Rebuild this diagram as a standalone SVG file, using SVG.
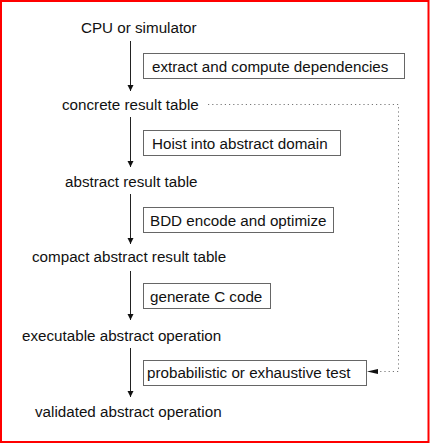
<svg xmlns="http://www.w3.org/2000/svg" width="430" height="444" viewBox="0 0 430 444">
<style>
.t{font-family:"Liberation Sans",Arial,sans-serif;font-size:15.2px;fill:#111}
.b{fill:#fff;stroke:#666;stroke-width:1}
.a{stroke:#222;stroke-width:1;fill:none}
.d{stroke:#777;stroke-width:1;fill:none;stroke-dasharray:1.2 3}
</style>
<defs>
<marker id="ah" markerWidth="6" markerHeight="10" refX="6" refY="5" orient="auto" markerUnits="userSpaceOnUse" viewBox="0 0 6 10">
<path d="M0,2 L6,5 L0,8 Z" fill="#111"/>
</marker>
</defs>
<rect x="1" y="1" width="427.5" height="441" fill="#fff" stroke="#f00" stroke-width="2"/>
<g id="connectors">
<line class="a" x1="130.5" y1="41" x2="130.5" y2="91" marker-end="url(#ah)"/>
<line class="a" x1="130.5" y1="117" x2="130.5" y2="167" marker-end="url(#ah)"/>
<line class="a" x1="130.5" y1="194" x2="130.5" y2="244" marker-end="url(#ah)"/>
<line class="a" x1="130.5" y1="271" x2="130.5" y2="320" marker-end="url(#ah)"/>
<line class="a" x1="130.5" y1="348" x2="130.5" y2="397" marker-end="url(#ah)"/>
<path class="d" d="M208,104.5 H398.5 V371.5 H378"/>
<polygon points="367,371.5 378,369 378,374" fill="#111"/>
</g>
<g id="n-cpu"><text class="t" x="81" y="33">CPU or simulator</text></g>
<g id="s-extract"><rect class="b" x="143.5" y="53.5" width="261" height="25"/><text class="t" x="152" y="71.5">extract and compute dependencies</text></g>
<g id="n-concrete"><text class="t" x="62" y="110">concrete result table</text></g>
<g id="s-hoist"><rect class="b" x="143.5" y="130.5" width="197" height="25"/><text class="t" x="152" y="148.5">Hoist into abstract domain</text></g>
<g id="n-abstract"><text class="t" x="65" y="187">abstract result table</text></g>
<g id="s-bdd"><rect class="b" x="143.5" y="207.5" width="190" height="25"/><text class="t" x="150" y="225.5">BDD encode and optimize</text></g>
<g id="n-compact"><text class="t" x="32" y="261.5">compact abstract result table</text></g>
<g id="s-gen"><rect class="b" x="143.5" y="283.5" width="127" height="25"/><text class="t" x="150" y="301.5">generate C code</text></g>
<g id="n-exec"><text class="t" x="22" y="341">executable abstract operation</text></g>
<g id="s-test"><rect class="b" x="143.5" y="360.5" width="223" height="25"/><text class="t" x="147" y="378">probabilistic or exhaustive test</text></g>
<g id="n-valid"><text class="t" x="35" y="417">validated abstract operation</text></g>
</svg>
